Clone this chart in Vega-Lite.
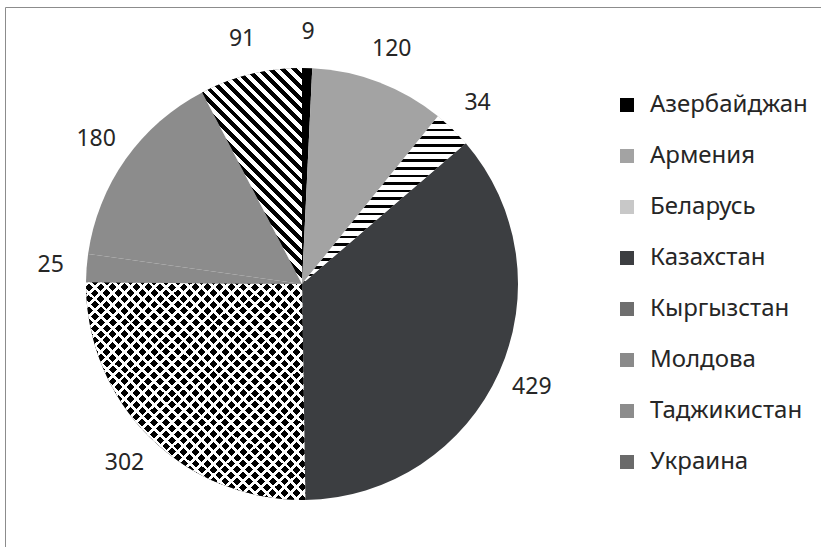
{
  "$schema": "https://vega.github.io/schema/vega-lite/v6.json",
  "autosize": "none",
  "width": 816,
  "height": 540,
  "padding": {"left": 5, "top": 7, "right": 0, "bottom": 0},
  "background": "white",
  "view": {"stroke": "#8c8c8c", "strokeWidth": 1},
  "config": {
    "view": {"stroke": "#8c8c8c", "strokeWidth": 1},
    "legend": {
      "orient": "none",
      "legendX": 610,
      "legendY": 86,
      "padding": 0,
      "symbolType": "square",
      "symbolSize": 196,
      "symbolStrokeWidth": 0,
      "labelFont": "Noto Sans",
      "labelFontSize": 24,
      "labelColor": "#262626",
      "labelOffset": 11,
      "rowPadding": 27
    }
  },
  "data": {
    "values": [
      {"country": "Азербайджан", "value": 9, "order": 1},
      {"country": "Армения", "value": 120, "order": 2},
      {"country": "Беларусь", "value": 34, "order": 3},
      {"country": "Казахстан", "value": 429, "order": 4},
      {"country": "Кыргызстан", "value": 302, "order": 5},
      {"country": "Молдова", "value": 25, "order": 6},
      {"country": "Таджикистан", "value": 180, "order": 7},
      {"country": "Украина", "value": 91, "order": 8}
    ]
  },
  "layer": [
    {
      "mark": {"type": "arc", "outerRadius": 216, "x": 297, "y": 277, "strokeWidth": 0},
      "encoding": {
        "theta": {"field": "value", "type": "quantitative", "stack": true},
        "order": {"field": "order", "type": "quantitative"},
        "color": {
          "field": "country",
          "type": "nominal",
          "title": null,
          "scale": {
            "domain": ["Азербайджан", "Армения", "Беларусь", "Казахстан", "Кыргызстан", "Молдова", "Таджикистан", "Украина"],
            "range": ["#000000", "#a3a3a3", "#c8c8c8", "#3c3e41", "#6e6e6e", "#8a8a8a", "#8c8c8c", "#6a6a6a"]
          }
        }
      }
    },
    {
      "mark": {"type": "arc", "outerRadius": 216, "x": 297, "y": 277, "strokeWidth": 0},
      "encoding": {
        "theta": {"field": "value", "type": "quantitative", "stack": true},
        "order": {"field": "order", "type": "quantitative"},
        "detail": {"field": "country", "type": "nominal"},
        "fill": {
          "condition": [
            {"test": "datum.country === 'Кыргызстан'", "value": "#000000"},
            {"test": "datum.country === 'Беларусь'", "value": {"gradient": "linear", "x1": 0, "y1": 0, "x2": 0, "y2": 1, "stops": [
                {"offset": 0, "color": "#fff"}, {"offset": 0.0295, "color": "#fff"}, {"offset": 0.0295, "color": "#000"}, {"offset": 0.0455, "color": "#000"},
                {"offset": 0.0455, "color": "#fff"}, {"offset": 0.0750, "color": "#fff"}, {"offset": 0.0750, "color": "#000"}, {"offset": 0.0909, "color": "#000"},
                {"offset": 0.0909, "color": "#fff"}, {"offset": 0.1205, "color": "#fff"}, {"offset": 0.1205, "color": "#000"}, {"offset": 0.1364, "color": "#000"},
                {"offset": 0.1364, "color": "#fff"}, {"offset": 0.1659, "color": "#fff"}, {"offset": 0.1659, "color": "#000"}, {"offset": 0.1818, "color": "#000"},
                {"offset": 0.1818, "color": "#fff"}, {"offset": 0.2114, "color": "#fff"}, {"offset": 0.2114, "color": "#000"}, {"offset": 0.2273, "color": "#000"},
                {"offset": 0.2273, "color": "#fff"}, {"offset": 0.2568, "color": "#fff"}, {"offset": 0.2568, "color": "#000"}, {"offset": 0.2727, "color": "#000"},
                {"offset": 0.2727, "color": "#fff"}, {"offset": 0.3023, "color": "#fff"}, {"offset": 0.3023, "color": "#000"}, {"offset": 0.3182, "color": "#000"},
                {"offset": 0.3182, "color": "#fff"}, {"offset": 0.3477, "color": "#fff"}, {"offset": 0.3477, "color": "#000"}, {"offset": 0.3636, "color": "#000"},
                {"offset": 0.3636, "color": "#fff"}, {"offset": 0.3932, "color": "#fff"}, {"offset": 0.3932, "color": "#000"}, {"offset": 0.4091, "color": "#000"},
                {"offset": 0.4091, "color": "#fff"}, {"offset": 0.4386, "color": "#fff"}, {"offset": 0.4386, "color": "#000"}, {"offset": 0.4545, "color": "#000"},
                {"offset": 0.4545, "color": "#fff"}, {"offset": 0.4841, "color": "#fff"}, {"offset": 0.4841, "color": "#000"}, {"offset": 0.5000, "color": "#000"},
                {"offset": 0.5000, "color": "#fff"}, {"offset": 0.5295, "color": "#fff"}, {"offset": 0.5295, "color": "#000"}, {"offset": 0.5455, "color": "#000"},
                {"offset": 0.5455, "color": "#fff"}, {"offset": 0.5750, "color": "#fff"}, {"offset": 0.5750, "color": "#000"}, {"offset": 0.5909, "color": "#000"},
                {"offset": 0.5909, "color": "#fff"}, {"offset": 0.6205, "color": "#fff"}, {"offset": 0.6205, "color": "#000"}, {"offset": 0.6364, "color": "#000"},
                {"offset": 0.6364, "color": "#fff"}, {"offset": 0.6659, "color": "#fff"}, {"offset": 0.6659, "color": "#000"}, {"offset": 0.6818, "color": "#000"},
                {"offset": 0.6818, "color": "#fff"}, {"offset": 0.7114, "color": "#fff"}, {"offset": 0.7114, "color": "#000"}, {"offset": 0.7273, "color": "#000"},
                {"offset": 0.7273, "color": "#fff"}, {"offset": 0.7568, "color": "#fff"}, {"offset": 0.7568, "color": "#000"}, {"offset": 0.7727, "color": "#000"},
                {"offset": 0.7727, "color": "#fff"}, {"offset": 0.8023, "color": "#fff"}, {"offset": 0.8023, "color": "#000"}, {"offset": 0.8182, "color": "#000"},
                {"offset": 0.8182, "color": "#fff"}, {"offset": 0.8477, "color": "#fff"}, {"offset": 0.8477, "color": "#000"}, {"offset": 0.8636, "color": "#000"},
                {"offset": 0.8636, "color": "#fff"}, {"offset": 0.8932, "color": "#fff"}, {"offset": 0.8932, "color": "#000"}, {"offset": 0.9091, "color": "#000"},
                {"offset": 0.9091, "color": "#fff"}, {"offset": 0.9386, "color": "#fff"}, {"offset": 0.9386, "color": "#000"}, {"offset": 0.9545, "color": "#000"},
                {"offset": 0.9545, "color": "#fff"}, {"offset": 0.9841, "color": "#fff"}, {"offset": 0.9841, "color": "#000"}, {"offset": 1, "color": "#000"}
              ]}},
            {"test": "datum.country === 'Украина'", "value": {"gradient": "linear", "x1": 0, "y1": 1, "x2": 0.557, "y2": -0.205, "stops": [
                {"offset": 0, "color": "#000"}, {"offset": 0.0185, "color": "#000"}, {"offset": 0.0185, "color": "#fff"}, {"offset": 0.0370, "color": "#fff"},
                {"offset": 0.0370, "color": "#000"}, {"offset": 0.0556, "color": "#000"}, {"offset": 0.0556, "color": "#fff"}, {"offset": 0.0741, "color": "#fff"},
                {"offset": 0.0741, "color": "#000"}, {"offset": 0.0926, "color": "#000"}, {"offset": 0.0926, "color": "#fff"}, {"offset": 0.1111, "color": "#fff"},
                {"offset": 0.1111, "color": "#000"}, {"offset": 0.1296, "color": "#000"}, {"offset": 0.1296, "color": "#fff"}, {"offset": 0.1481, "color": "#fff"},
                {"offset": 0.1481, "color": "#000"}, {"offset": 0.1667, "color": "#000"}, {"offset": 0.1667, "color": "#fff"}, {"offset": 0.1852, "color": "#fff"},
                {"offset": 0.1852, "color": "#000"}, {"offset": 0.2037, "color": "#000"}, {"offset": 0.2037, "color": "#fff"}, {"offset": 0.2222, "color": "#fff"},
                {"offset": 0.2222, "color": "#000"}, {"offset": 0.2407, "color": "#000"}, {"offset": 0.2407, "color": "#fff"}, {"offset": 0.2593, "color": "#fff"},
                {"offset": 0.2593, "color": "#000"}, {"offset": 0.2778, "color": "#000"}, {"offset": 0.2778, "color": "#fff"}, {"offset": 0.2963, "color": "#fff"},
                {"offset": 0.2963, "color": "#000"}, {"offset": 0.3148, "color": "#000"}, {"offset": 0.3148, "color": "#fff"}, {"offset": 0.3333, "color": "#fff"},
                {"offset": 0.3333, "color": "#000"}, {"offset": 0.3519, "color": "#000"}, {"offset": 0.3519, "color": "#fff"}, {"offset": 0.3704, "color": "#fff"},
                {"offset": 0.3704, "color": "#000"}, {"offset": 0.3889, "color": "#000"}, {"offset": 0.3889, "color": "#fff"}, {"offset": 0.4074, "color": "#fff"},
                {"offset": 0.4074, "color": "#000"}, {"offset": 0.4259, "color": "#000"}, {"offset": 0.4259, "color": "#fff"}, {"offset": 0.4444, "color": "#fff"},
                {"offset": 0.4444, "color": "#000"}, {"offset": 0.4630, "color": "#000"}, {"offset": 0.4630, "color": "#fff"}, {"offset": 0.4815, "color": "#fff"},
                {"offset": 0.4815, "color": "#000"}, {"offset": 0.5000, "color": "#000"}, {"offset": 0.5000, "color": "#fff"}, {"offset": 0.5185, "color": "#fff"},
                {"offset": 0.5185, "color": "#000"}, {"offset": 0.5370, "color": "#000"}, {"offset": 0.5370, "color": "#fff"}, {"offset": 0.5556, "color": "#fff"},
                {"offset": 0.5556, "color": "#000"}, {"offset": 0.5741, "color": "#000"}, {"offset": 0.5741, "color": "#fff"}, {"offset": 0.5926, "color": "#fff"},
                {"offset": 0.5926, "color": "#000"}, {"offset": 0.6111, "color": "#000"}, {"offset": 0.6111, "color": "#fff"}, {"offset": 0.6296, "color": "#fff"},
                {"offset": 0.6296, "color": "#000"}, {"offset": 0.6481, "color": "#000"}, {"offset": 0.6481, "color": "#fff"}, {"offset": 0.6667, "color": "#fff"},
                {"offset": 0.6667, "color": "#000"}, {"offset": 0.6852, "color": "#000"}, {"offset": 0.6852, "color": "#fff"}, {"offset": 0.7037, "color": "#fff"},
                {"offset": 0.7037, "color": "#000"}, {"offset": 0.7222, "color": "#000"}, {"offset": 0.7222, "color": "#fff"}, {"offset": 0.7407, "color": "#fff"},
                {"offset": 0.7407, "color": "#000"}, {"offset": 0.7593, "color": "#000"}, {"offset": 0.7593, "color": "#fff"}, {"offset": 0.7778, "color": "#fff"},
                {"offset": 0.7778, "color": "#000"}, {"offset": 0.7963, "color": "#000"}, {"offset": 0.7963, "color": "#fff"}, {"offset": 0.8148, "color": "#fff"},
                {"offset": 0.8148, "color": "#000"}, {"offset": 0.8333, "color": "#000"}, {"offset": 0.8333, "color": "#fff"}, {"offset": 0.8519, "color": "#fff"},
                {"offset": 0.8519, "color": "#000"}, {"offset": 0.8704, "color": "#000"}, {"offset": 0.8704, "color": "#fff"}, {"offset": 0.8889, "color": "#fff"},
                {"offset": 0.8889, "color": "#000"}, {"offset": 0.9074, "color": "#000"}, {"offset": 0.9074, "color": "#fff"}, {"offset": 0.9259, "color": "#fff"},
                {"offset": 0.9259, "color": "#000"}, {"offset": 0.9444, "color": "#000"}, {"offset": 0.9444, "color": "#fff"}, {"offset": 0.9630, "color": "#fff"},
                {"offset": 0.9630, "color": "#000"}, {"offset": 0.9815, "color": "#000"}, {"offset": 0.9815, "color": "#fff"}, {"offset": 1, "color": "#fff"}
              ]}}
          ],
          "value": "transparent"
        }
      }
    },
    {
      "mark": {"type": "arc", "outerRadius": 216, "x": 297, "y": 277, "strokeWidth": 0},
      "encoding": {
        "theta": {"field": "value", "type": "quantitative", "stack": true},
        "order": {"field": "order", "type": "quantitative"},
        "detail": {"field": "country", "type": "nominal"},
        "fill": {
          "condition": {"test": "datum.country === 'Кыргызстан'", "value": {"gradient": "linear", "x1": 0, "y1": 0, "x2": 1, "y2": 1, "stops": [
            {"offset": 0, "color": "#fff"}, {"offset": 0.0089, "color": "#fff"}, {"offset": 0.0089, "color": "rgba(255,255,255,0)"}, {"offset": 0.0270, "color": "rgba(255,255,255,0)"},
            {"offset": 0.0270, "color": "#fff"}, {"offset": 0.0360, "color": "#fff"}, {"offset": 0.0360, "color": "rgba(255,255,255,0)"}, {"offset": 0.0541, "color": "rgba(255,255,255,0)"},
            {"offset": 0.0541, "color": "#fff"}, {"offset": 0.0630, "color": "#fff"}, {"offset": 0.0630, "color": "rgba(255,255,255,0)"}, {"offset": 0.0811, "color": "rgba(255,255,255,0)"},
            {"offset": 0.0811, "color": "#fff"}, {"offset": 0.0900, "color": "#fff"}, {"offset": 0.0900, "color": "rgba(255,255,255,0)"}, {"offset": 0.1081, "color": "rgba(255,255,255,0)"},
            {"offset": 0.1081, "color": "#fff"}, {"offset": 0.1170, "color": "#fff"}, {"offset": 0.1170, "color": "rgba(255,255,255,0)"}, {"offset": 0.1351, "color": "rgba(255,255,255,0)"},
            {"offset": 0.1351, "color": "#fff"}, {"offset": 0.1441, "color": "#fff"}, {"offset": 0.1441, "color": "rgba(255,255,255,0)"}, {"offset": 0.1622, "color": "rgba(255,255,255,0)"},
            {"offset": 0.1622, "color": "#fff"}, {"offset": 0.1711, "color": "#fff"}, {"offset": 0.1711, "color": "rgba(255,255,255,0)"}, {"offset": 0.1892, "color": "rgba(255,255,255,0)"},
            {"offset": 0.1892, "color": "#fff"}, {"offset": 0.1981, "color": "#fff"}, {"offset": 0.1981, "color": "rgba(255,255,255,0)"}, {"offset": 0.2162, "color": "rgba(255,255,255,0)"},
            {"offset": 0.2162, "color": "#fff"}, {"offset": 0.2251, "color": "#fff"}, {"offset": 0.2251, "color": "rgba(255,255,255,0)"}, {"offset": 0.2432, "color": "rgba(255,255,255,0)"},
            {"offset": 0.2432, "color": "#fff"}, {"offset": 0.2522, "color": "#fff"}, {"offset": 0.2522, "color": "rgba(255,255,255,0)"}, {"offset": 0.2703, "color": "rgba(255,255,255,0)"},
            {"offset": 0.2703, "color": "#fff"}, {"offset": 0.2792, "color": "#fff"}, {"offset": 0.2792, "color": "rgba(255,255,255,0)"}, {"offset": 0.2973, "color": "rgba(255,255,255,0)"},
            {"offset": 0.2973, "color": "#fff"}, {"offset": 0.3062, "color": "#fff"}, {"offset": 0.3062, "color": "rgba(255,255,255,0)"}, {"offset": 0.3243, "color": "rgba(255,255,255,0)"},
            {"offset": 0.3243, "color": "#fff"}, {"offset": 0.3332, "color": "#fff"}, {"offset": 0.3332, "color": "rgba(255,255,255,0)"}, {"offset": 0.3514, "color": "rgba(255,255,255,0)"},
            {"offset": 0.3514, "color": "#fff"}, {"offset": 0.3603, "color": "#fff"}, {"offset": 0.3603, "color": "rgba(255,255,255,0)"}, {"offset": 0.3784, "color": "rgba(255,255,255,0)"},
            {"offset": 0.3784, "color": "#fff"}, {"offset": 0.3873, "color": "#fff"}, {"offset": 0.3873, "color": "rgba(255,255,255,0)"}, {"offset": 0.4054, "color": "rgba(255,255,255,0)"},
            {"offset": 0.4054, "color": "#fff"}, {"offset": 0.4143, "color": "#fff"}, {"offset": 0.4143, "color": "rgba(255,255,255,0)"}, {"offset": 0.4324, "color": "rgba(255,255,255,0)"},
            {"offset": 0.4324, "color": "#fff"}, {"offset": 0.4414, "color": "#fff"}, {"offset": 0.4414, "color": "rgba(255,255,255,0)"}, {"offset": 0.4595, "color": "rgba(255,255,255,0)"},
            {"offset": 0.4595, "color": "#fff"}, {"offset": 0.4684, "color": "#fff"}, {"offset": 0.4684, "color": "rgba(255,255,255,0)"}, {"offset": 0.4865, "color": "rgba(255,255,255,0)"},
            {"offset": 0.4865, "color": "#fff"}, {"offset": 0.4954, "color": "#fff"}, {"offset": 0.4954, "color": "rgba(255,255,255,0)"}, {"offset": 0.5135, "color": "rgba(255,255,255,0)"},
            {"offset": 0.5135, "color": "#fff"}, {"offset": 0.5224, "color": "#fff"}, {"offset": 0.5224, "color": "rgba(255,255,255,0)"}, {"offset": 0.5405, "color": "rgba(255,255,255,0)"},
            {"offset": 0.5405, "color": "#fff"}, {"offset": 0.5495, "color": "#fff"}, {"offset": 0.5495, "color": "rgba(255,255,255,0)"}, {"offset": 0.5676, "color": "rgba(255,255,255,0)"},
            {"offset": 0.5676, "color": "#fff"}, {"offset": 0.5765, "color": "#fff"}, {"offset": 0.5765, "color": "rgba(255,255,255,0)"}, {"offset": 0.5946, "color": "rgba(255,255,255,0)"},
            {"offset": 0.5946, "color": "#fff"}, {"offset": 0.6035, "color": "#fff"}, {"offset": 0.6035, "color": "rgba(255,255,255,0)"}, {"offset": 0.6216, "color": "rgba(255,255,255,0)"},
            {"offset": 0.6216, "color": "#fff"}, {"offset": 0.6305, "color": "#fff"}, {"offset": 0.6305, "color": "rgba(255,255,255,0)"}, {"offset": 0.6486, "color": "rgba(255,255,255,0)"},
            {"offset": 0.6486, "color": "#fff"}, {"offset": 0.6576, "color": "#fff"}, {"offset": 0.6576, "color": "rgba(255,255,255,0)"}, {"offset": 0.6757, "color": "rgba(255,255,255,0)"},
            {"offset": 0.6757, "color": "#fff"}, {"offset": 0.6846, "color": "#fff"}, {"offset": 0.6846, "color": "rgba(255,255,255,0)"}, {"offset": 0.7027, "color": "rgba(255,255,255,0)"},
            {"offset": 0.7027, "color": "#fff"}, {"offset": 0.7116, "color": "#fff"}, {"offset": 0.7116, "color": "rgba(255,255,255,0)"}, {"offset": 0.7297, "color": "rgba(255,255,255,0)"},
            {"offset": 0.7297, "color": "#fff"}, {"offset": 0.7386, "color": "#fff"}, {"offset": 0.7386, "color": "rgba(255,255,255,0)"}, {"offset": 0.7568, "color": "rgba(255,255,255,0)"},
            {"offset": 0.7568, "color": "#fff"}, {"offset": 0.7657, "color": "#fff"}, {"offset": 0.7657, "color": "rgba(255,255,255,0)"}, {"offset": 0.7838, "color": "rgba(255,255,255,0)"},
            {"offset": 0.7838, "color": "#fff"}, {"offset": 0.7927, "color": "#fff"}, {"offset": 0.7927, "color": "rgba(255,255,255,0)"}, {"offset": 0.8108, "color": "rgba(255,255,255,0)"},
            {"offset": 0.8108, "color": "#fff"}, {"offset": 0.8197, "color": "#fff"}, {"offset": 0.8197, "color": "rgba(255,255,255,0)"}, {"offset": 0.8378, "color": "rgba(255,255,255,0)"},
            {"offset": 0.8378, "color": "#fff"}, {"offset": 0.8468, "color": "#fff"}, {"offset": 0.8468, "color": "rgba(255,255,255,0)"}, {"offset": 0.8649, "color": "rgba(255,255,255,0)"},
            {"offset": 0.8649, "color": "#fff"}, {"offset": 0.8738, "color": "#fff"}, {"offset": 0.8738, "color": "rgba(255,255,255,0)"}, {"offset": 0.8919, "color": "rgba(255,255,255,0)"},
            {"offset": 0.8919, "color": "#fff"}, {"offset": 0.9008, "color": "#fff"}, {"offset": 0.9008, "color": "rgba(255,255,255,0)"}, {"offset": 0.9189, "color": "rgba(255,255,255,0)"},
            {"offset": 0.9189, "color": "#fff"}, {"offset": 0.9278, "color": "#fff"}, {"offset": 0.9278, "color": "rgba(255,255,255,0)"}, {"offset": 0.9459, "color": "rgba(255,255,255,0)"},
            {"offset": 0.9459, "color": "#fff"}, {"offset": 0.9549, "color": "#fff"}, {"offset": 0.9549, "color": "rgba(255,255,255,0)"}, {"offset": 0.9730, "color": "rgba(255,255,255,0)"},
            {"offset": 0.9730, "color": "#fff"}, {"offset": 0.9819, "color": "#fff"}, {"offset": 0.9819, "color": "rgba(255,255,255,0)"}, {"offset": 1, "color": "rgba(255,255,255,0)"}
          ]}},
          "value": "transparent"
        }
      }
    },
    {
      "mark": {"type": "arc", "outerRadius": 216, "x": 297, "y": 277, "strokeWidth": 0},
      "encoding": {
        "theta": {"field": "value", "type": "quantitative", "stack": true},
        "order": {"field": "order", "type": "quantitative"},
        "detail": {"field": "country", "type": "nominal"},
        "fill": {
          "condition": {"test": "datum.country === 'Кыргызстан'", "value": {"gradient": "linear", "x1": 1, "y1": 0, "x2": 0, "y2": 1, "stops": [
            {"offset": 0, "color": "#fff"}, {"offset": 0.0089, "color": "#fff"}, {"offset": 0.0089, "color": "rgba(255,255,255,0)"}, {"offset": 0.0270, "color": "rgba(255,255,255,0)"},
            {"offset": 0.0270, "color": "#fff"}, {"offset": 0.0360, "color": "#fff"}, {"offset": 0.0360, "color": "rgba(255,255,255,0)"}, {"offset": 0.0541, "color": "rgba(255,255,255,0)"},
            {"offset": 0.0541, "color": "#fff"}, {"offset": 0.0630, "color": "#fff"}, {"offset": 0.0630, "color": "rgba(255,255,255,0)"}, {"offset": 0.0811, "color": "rgba(255,255,255,0)"},
            {"offset": 0.0811, "color": "#fff"}, {"offset": 0.0900, "color": "#fff"}, {"offset": 0.0900, "color": "rgba(255,255,255,0)"}, {"offset": 0.1081, "color": "rgba(255,255,255,0)"},
            {"offset": 0.1081, "color": "#fff"}, {"offset": 0.1170, "color": "#fff"}, {"offset": 0.1170, "color": "rgba(255,255,255,0)"}, {"offset": 0.1351, "color": "rgba(255,255,255,0)"},
            {"offset": 0.1351, "color": "#fff"}, {"offset": 0.1441, "color": "#fff"}, {"offset": 0.1441, "color": "rgba(255,255,255,0)"}, {"offset": 0.1622, "color": "rgba(255,255,255,0)"},
            {"offset": 0.1622, "color": "#fff"}, {"offset": 0.1711, "color": "#fff"}, {"offset": 0.1711, "color": "rgba(255,255,255,0)"}, {"offset": 0.1892, "color": "rgba(255,255,255,0)"},
            {"offset": 0.1892, "color": "#fff"}, {"offset": 0.1981, "color": "#fff"}, {"offset": 0.1981, "color": "rgba(255,255,255,0)"}, {"offset": 0.2162, "color": "rgba(255,255,255,0)"},
            {"offset": 0.2162, "color": "#fff"}, {"offset": 0.2251, "color": "#fff"}, {"offset": 0.2251, "color": "rgba(255,255,255,0)"}, {"offset": 0.2432, "color": "rgba(255,255,255,0)"},
            {"offset": 0.2432, "color": "#fff"}, {"offset": 0.2522, "color": "#fff"}, {"offset": 0.2522, "color": "rgba(255,255,255,0)"}, {"offset": 0.2703, "color": "rgba(255,255,255,0)"},
            {"offset": 0.2703, "color": "#fff"}, {"offset": 0.2792, "color": "#fff"}, {"offset": 0.2792, "color": "rgba(255,255,255,0)"}, {"offset": 0.2973, "color": "rgba(255,255,255,0)"},
            {"offset": 0.2973, "color": "#fff"}, {"offset": 0.3062, "color": "#fff"}, {"offset": 0.3062, "color": "rgba(255,255,255,0)"}, {"offset": 0.3243, "color": "rgba(255,255,255,0)"},
            {"offset": 0.3243, "color": "#fff"}, {"offset": 0.3332, "color": "#fff"}, {"offset": 0.3332, "color": "rgba(255,255,255,0)"}, {"offset": 0.3514, "color": "rgba(255,255,255,0)"},
            {"offset": 0.3514, "color": "#fff"}, {"offset": 0.3603, "color": "#fff"}, {"offset": 0.3603, "color": "rgba(255,255,255,0)"}, {"offset": 0.3784, "color": "rgba(255,255,255,0)"},
            {"offset": 0.3784, "color": "#fff"}, {"offset": 0.3873, "color": "#fff"}, {"offset": 0.3873, "color": "rgba(255,255,255,0)"}, {"offset": 0.4054, "color": "rgba(255,255,255,0)"},
            {"offset": 0.4054, "color": "#fff"}, {"offset": 0.4143, "color": "#fff"}, {"offset": 0.4143, "color": "rgba(255,255,255,0)"}, {"offset": 0.4324, "color": "rgba(255,255,255,0)"},
            {"offset": 0.4324, "color": "#fff"}, {"offset": 0.4414, "color": "#fff"}, {"offset": 0.4414, "color": "rgba(255,255,255,0)"}, {"offset": 0.4595, "color": "rgba(255,255,255,0)"},
            {"offset": 0.4595, "color": "#fff"}, {"offset": 0.4684, "color": "#fff"}, {"offset": 0.4684, "color": "rgba(255,255,255,0)"}, {"offset": 0.4865, "color": "rgba(255,255,255,0)"},
            {"offset": 0.4865, "color": "#fff"}, {"offset": 0.4954, "color": "#fff"}, {"offset": 0.4954, "color": "rgba(255,255,255,0)"}, {"offset": 0.5135, "color": "rgba(255,255,255,0)"},
            {"offset": 0.5135, "color": "#fff"}, {"offset": 0.5224, "color": "#fff"}, {"offset": 0.5224, "color": "rgba(255,255,255,0)"}, {"offset": 0.5405, "color": "rgba(255,255,255,0)"},
            {"offset": 0.5405, "color": "#fff"}, {"offset": 0.5495, "color": "#fff"}, {"offset": 0.5495, "color": "rgba(255,255,255,0)"}, {"offset": 0.5676, "color": "rgba(255,255,255,0)"},
            {"offset": 0.5676, "color": "#fff"}, {"offset": 0.5765, "color": "#fff"}, {"offset": 0.5765, "color": "rgba(255,255,255,0)"}, {"offset": 0.5946, "color": "rgba(255,255,255,0)"},
            {"offset": 0.5946, "color": "#fff"}, {"offset": 0.6035, "color": "#fff"}, {"offset": 0.6035, "color": "rgba(255,255,255,0)"}, {"offset": 0.6216, "color": "rgba(255,255,255,0)"},
            {"offset": 0.6216, "color": "#fff"}, {"offset": 0.6305, "color": "#fff"}, {"offset": 0.6305, "color": "rgba(255,255,255,0)"}, {"offset": 0.6486, "color": "rgba(255,255,255,0)"},
            {"offset": 0.6486, "color": "#fff"}, {"offset": 0.6576, "color": "#fff"}, {"offset": 0.6576, "color": "rgba(255,255,255,0)"}, {"offset": 0.6757, "color": "rgba(255,255,255,0)"},
            {"offset": 0.6757, "color": "#fff"}, {"offset": 0.6846, "color": "#fff"}, {"offset": 0.6846, "color": "rgba(255,255,255,0)"}, {"offset": 0.7027, "color": "rgba(255,255,255,0)"},
            {"offset": 0.7027, "color": "#fff"}, {"offset": 0.7116, "color": "#fff"}, {"offset": 0.7116, "color": "rgba(255,255,255,0)"}, {"offset": 0.7297, "color": "rgba(255,255,255,0)"},
            {"offset": 0.7297, "color": "#fff"}, {"offset": 0.7386, "color": "#fff"}, {"offset": 0.7386, "color": "rgba(255,255,255,0)"}, {"offset": 0.7568, "color": "rgba(255,255,255,0)"},
            {"offset": 0.7568, "color": "#fff"}, {"offset": 0.7657, "color": "#fff"}, {"offset": 0.7657, "color": "rgba(255,255,255,0)"}, {"offset": 0.7838, "color": "rgba(255,255,255,0)"},
            {"offset": 0.7838, "color": "#fff"}, {"offset": 0.7927, "color": "#fff"}, {"offset": 0.7927, "color": "rgba(255,255,255,0)"}, {"offset": 0.8108, "color": "rgba(255,255,255,0)"},
            {"offset": 0.8108, "color": "#fff"}, {"offset": 0.8197, "color": "#fff"}, {"offset": 0.8197, "color": "rgba(255,255,255,0)"}, {"offset": 0.8378, "color": "rgba(255,255,255,0)"},
            {"offset": 0.8378, "color": "#fff"}, {"offset": 0.8468, "color": "#fff"}, {"offset": 0.8468, "color": "rgba(255,255,255,0)"}, {"offset": 0.8649, "color": "rgba(255,255,255,0)"},
            {"offset": 0.8649, "color": "#fff"}, {"offset": 0.8738, "color": "#fff"}, {"offset": 0.8738, "color": "rgba(255,255,255,0)"}, {"offset": 0.8919, "color": "rgba(255,255,255,0)"},
            {"offset": 0.8919, "color": "#fff"}, {"offset": 0.9008, "color": "#fff"}, {"offset": 0.9008, "color": "rgba(255,255,255,0)"}, {"offset": 0.9189, "color": "rgba(255,255,255,0)"},
            {"offset": 0.9189, "color": "#fff"}, {"offset": 0.9278, "color": "#fff"}, {"offset": 0.9278, "color": "rgba(255,255,255,0)"}, {"offset": 0.9459, "color": "rgba(255,255,255,0)"},
            {"offset": 0.9459, "color": "#fff"}, {"offset": 0.9549, "color": "#fff"}, {"offset": 0.9549, "color": "rgba(255,255,255,0)"}, {"offset": 0.9730, "color": "rgba(255,255,255,0)"},
            {"offset": 0.9730, "color": "#fff"}, {"offset": 0.9819, "color": "#fff"}, {"offset": 0.9819, "color": "rgba(255,255,255,0)"}, {"offset": 1, "color": "rgba(255,255,255,0)"}
          ]}},
          "value": "transparent"
        }
      }
    },
    {
      "mark": {"type": "text", "radius": 252, "x": 297, "y": 277, "font": "Noto Sans", "fontSize": 23, "color": "#262626"},
      "encoding": {
        "theta": {"field": "value", "type": "quantitative", "stack": true},
        "order": {"field": "order", "type": "quantitative"},
        "detail": {"field": "country", "type": "nominal"},
        "text": {"field": "value", "type": "quantitative"}
      }
    }
  ]
}
